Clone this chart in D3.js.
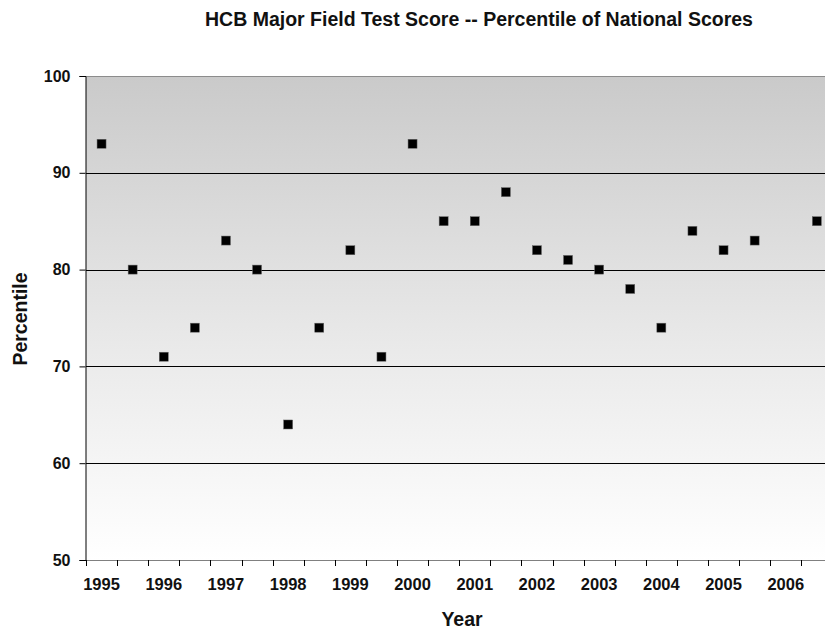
<!DOCTYPE html>
<html>
<head>
<meta charset="utf-8">
<script src="https://cdn.jsdelivr.net/npm/d3@7"></script>
<style>
  html, body { margin: 0; padding: 0; background: #fff; }
  svg { display: block; font-family: "Liberation Sans", Arial, sans-serif; }
</style>
</head>
<body>
<svg id="chart" width="825" height="629"></svg>
<script>
// ---- data ----
const title = "HCB Major Field Test Score -- Percentile of National Scores";
const xTitle = "Year";
const yTitle = "Percentile";
// 24 half-year categories; a label on every other one
const categories = ["1995a","1995b","1996a","1996b","1997a","1997b","1998a","1998b",
  "1999a","1999b","2000a","2000b","2001a","2001b","2002a","2002b",
  "2003a","2003b","2004a","2004b","2005a","2005b","2006a","2006b"];
const tickLabels = ["1995","","1996","","1997","","1998","","1999","","2000","",
  "2001","","2002","","2003","","2004","","2005","","2006",""];
const percentiles = [93,80,71,74,83,80,64,74,82,71,93,85,85,88,82,81,80,78,74,84,82,83,null,85];
const yTicks = [50,60,70,80,90,100];

// ---- layout ----
const svg = d3.select("#chart");
const plotLeft = 86, plotTop = 76, plotBottom = 560;
const bandW = 31.1;
const plotRight = plotLeft + bandW * categories.length;

const x = d3.scaleBand().domain(categories).range([plotLeft, plotRight]).padding(0);
const y = d3.scaleLinear().domain([50, 100]).range([plotBottom, plotTop]);

// gradient background
const defs = svg.append("defs");
const grad = defs.append("linearGradient").attr("id", "bg")
  .attr("x1", 0).attr("y1", 0).attr("x2", 0).attr("y2", 1);
grad.append("stop").attr("offset", "0%").attr("stop-color", "#cacaca");
grad.append("stop").attr("offset", "55%").attr("stop-color", "#e9e9e9");
grad.append("stop").attr("offset", "100%").attr("stop-color", "#ffffff");

svg.append("rect")
  .attr("x", plotLeft).attr("y", plotTop)
  .attr("width", plotRight - plotLeft).attr("height", plotBottom - plotTop)
  .attr("fill", "url(#bg)");

// gridlines
svg.append("g").selectAll("line")
  .data(yTicks.filter(d => d > 50 && d < 100))
  .join("line")
  .attr("x1", plotLeft).attr("x2", plotRight)
  .attr("y1", d => Math.round(y(d)) + 0.5).attr("y2", d => Math.round(y(d)) + 0.5)
  .attr("stroke", "#000").attr("stroke-width", 1);

// top border
svg.append("line")
  .attr("x1", plotLeft).attr("x2", plotRight)
  .attr("y1", Math.round(y(100)) + 0.5).attr("y2", Math.round(y(100)) + 0.5)
  .attr("stroke", "#8c8c8c").attr("stroke-width", 1);

// y axis
const yAxis = d3.axisLeft(y).tickValues(yTicks).tickSize(6).tickPadding(9)
  .tickFormat(d3.format("d"));
const gy = svg.append("g").attr("transform", `translate(${plotLeft - 0.5},0)`).call(yAxis);
gy.select(".domain").attr("stroke", "#000");
gy.selectAll(".tick line").attr("stroke", "#000");
gy.selectAll(".tick text")
  .attr("font-size", 16).attr("font-weight", "bold").attr("fill", "#111")
  .attr("font-family", "Liberation Sans, Arial, sans-serif");

// x axis: labels centred on categories, ticks on band boundaries
const xAxis = d3.axisBottom(x).tickSize(0).tickPadding(18)
  .tickFormat((d, i) => tickLabels[i]);
const gx = svg.append("g").attr("transform", `translate(0,${plotBottom + 0.5})`).call(xAxis);
gx.select(".domain").remove();
gx.selectAll(".tick text")
  .attr("font-size", 16.5).attr("font-weight", "bold").attr("fill", "#111")
  .attr("font-family", "Liberation Sans, Arial, sans-serif");

svg.append("line")
  .attr("x1", plotLeft).attr("x2", plotRight)
  .attr("y1", plotBottom + 0.5).attr("y2", plotBottom + 0.5)
  .attr("stroke", "#808080");
svg.append("g").selectAll("line")
  .data(categories.concat(["end"]))
  .join("line")
  .attr("x1", d => Math.round(d === "end" ? plotRight : x(d)) + 0.5)
  .attr("x2", d => Math.round(d === "end" ? plotRight : x(d)) + 0.5)
  .attr("y1", plotBottom).attr("y2", plotBottom + 6)
  .attr("stroke", "#000");

// markers
const pts = categories.map((c, i) => ({ c, v: percentiles[i] })).filter(d => d.v != null);
svg.append("g").selectAll("rect")
  .data(pts)
  .join("rect")
  .attr("x", d => x(d.c) + x.bandwidth() / 2 - 4.5)
  .attr("y", d => y(d.v) - 4.5)
  .attr("width", 9).attr("height", 9)
  .attr("fill", "#000").attr("stroke", "#666").attr("stroke-width", 0.5);

// titles
svg.append("text")
  .attr("x", 479).attr("y", 26)
  .attr("text-anchor", "middle")
  .attr("font-size", 19.5).attr("font-weight", "bold").attr("fill", "#111")
  .text(title);

svg.append("text")
  .attr("x", 462).attr("y", 626)
  .attr("text-anchor", "middle")
  .attr("font-size", 19.5).attr("font-weight", "bold").attr("fill", "#111")
  .text(xTitle);

svg.append("text")
  .attr("transform", "translate(27,319) rotate(-90)")
  .attr("text-anchor", "middle")
  .attr("font-size", 19.5).attr("font-weight", "bold").attr("fill", "#111")
  .text(yTitle);
</script>
</body>
</html>
